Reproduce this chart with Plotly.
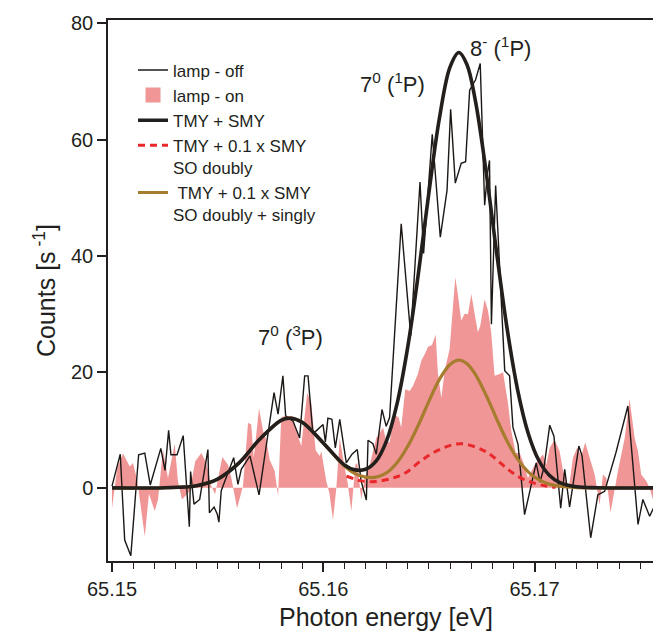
import plotly.graph_objects as go

# lamp - off (thin black line)
energy_off = [65.15000, 65.15039, 65.15060, 65.15089, 65.15126, 65.15155, 65.15181, 65.15231, 65.15251,
              65.15268, 65.15279, 65.15308, 65.15337, 65.15366, 65.15372, 65.15388, 65.15415, 65.15454,
              65.15461, 65.15483, 65.15498, 65.15506, 65.15517, 65.15576, 65.15596, 65.15612, 65.15653,
              65.15696, 65.15767, 65.15786, 65.15809, 65.15822, 65.15857, 65.15888, 65.15912, 65.15928,
              65.15951, 65.15983, 65.15999, 65.16010, 65.16022, 65.16041, 65.16057, 65.16078, 65.16109,
              65.16136, 65.16161, 65.16179, 65.16204, 65.16212, 65.16235, 65.16251, 65.16278, 65.16298,
              65.16314, 65.16369, 65.16414, 65.16458, 65.16475, 65.16516, 65.16554, 65.16586, 65.16603,
              65.16625, 65.16653, 65.16674, 65.16693, 65.16721, 65.16743, 65.16764, 65.16777, 65.16787,
              65.16796, 65.16816, 65.16859, 65.16882, 65.16898, 65.16922, 65.16953, 65.16974, 65.16989,
              65.17008, 65.17026, 65.17045, 65.17072, 65.17092, 65.17124, 65.17143, 65.17166, 65.17210,
              65.17225, 65.17266, 65.17300, 65.17332, 65.17385, 65.17442, 65.17490, 65.17513, 65.17545,
              65.17571, 65.17597]
counts_off = [0.3, 5.8, -9.0, -11.7, 5.7, 6.0, 0.5, 6.8, 3.0,
              9.9, 5.7, 5.7, 9.0, -6.7, 2.8, -2.8, -2.0, 6.6,
              -4.3, -3.3, -4.5, -5.9, -0.5, 5.2, 0.6, 3.2, 5.5,
              -1.2, 16.4, 12.7, 19.3, 12.4, 11.5, 8.6, 19.3, 19.3,
              9.3, 10.4, 10.9, 7.9, 12.0, 11.8, 6.9, 11.8, 4.3,
              5.8, 6.6, 1.2, -2.1, 8.2, 7.6, 5.8, 13.5, 10.6,
              12.1, 45.5, 26.2, 52.7, 40.4, 60.9, 43.2, 51.3, 65.2,
              52.5, 55.9, 56.2, 68.5, 70.3, 73.1, 48.7, 54.1, 56.4,
              28.2, 52.1, 20.2, 19.3, 10.4, 7.5, -4.6, -1.2, 1.2,
              4.3, 1.0, 3.5, 10.8, 8.9, -3.5, 3.2, -3.3, 7.2,
              5.5, -8.6, -1.2, -0.6, 6.0, 14.1, -6.3, -2.0, -4.9,
              -2.9, 3.2]

# lamp - on (pink filled area)
energy_on = [65.15000, 65.15025, 65.15052, 65.15084, 65.15099, 65.15120, 65.15155, 65.15175, 65.15202,
             65.15218, 65.15241, 65.15265, 65.15297, 65.15312, 65.15331, 65.15368, 65.15394, 65.15423,
             65.15446, 65.15470, 65.15488, 65.15522, 65.15549, 65.15565, 65.15592, 65.15620, 65.15644,
             65.15659, 65.15671, 65.15696, 65.15715, 65.15730, 65.15746, 65.15770, 65.15786, 65.15801,
             65.15817, 65.15853, 65.15872, 65.15896, 65.15924, 65.15943, 65.15964, 65.15983, 65.15991,
             65.16014, 65.16029, 65.16046, 65.16062, 65.16078, 65.16101, 65.16115, 65.16133, 65.16152,
             65.16161, 65.16180, 65.16196, 65.16220, 65.16251, 65.16283, 65.16298, 65.16314, 65.16335,
             65.16357, 65.16369, 65.16388, 65.16409, 65.16425, 65.16448, 65.16464, 65.16480, 65.16496,
             65.16515, 65.16532, 65.16543, 65.16559, 65.16575, 65.16598, 65.16625, 65.16638, 65.16653,
             65.16669, 65.16685, 65.16701, 65.16717, 65.16732, 65.16743, 65.16764, 65.16780, 65.16795,
             65.16811, 65.16835, 65.16851, 65.16874, 65.16890, 65.16911, 65.16930, 65.16945, 65.16969,
             65.17001, 65.17040, 65.17056, 65.17072, 65.17095, 65.17119, 65.17135, 65.17150, 65.17155,
             65.17166, 65.17182, 65.17202, 65.17221, 65.17240, 65.17261, 65.17285, 65.17308, 65.17324,
             65.17340, 65.17360, 65.17371, 65.17395, 65.17427, 65.17450, 65.17474, 65.17490, 65.17505,
             65.17529, 65.17545, 65.17565, 65.17576, 65.17588, 65.17592]
counts_on = [-3.5, 3.5, 5.9, 3.7, 4.3, 1.2, -8.4, -1.0, -4.0,
             -2.0, 6.6, 1.7, 7.6, 1.2, -2.0, -0.6, 4.6, 6.0,
             4.3, 0.3, -1.1, 5.3, 4.0, 1.7, -3.5, 0.3, 11.2,
             10.9, 5.2, 13.7, 9.8, 8.3, 4.9, 2.9, -1.4, 12.1,
             12.4, 12.4, 9.8, 7.2, 16.4, 14.7, 6.5, 5.5, 6.3,
             1.2, -0.9, -5.5, 0.0, 8.6, 3.5, 1.0, -4.0, 4.0,
             4.3, -2.0, 1.7, 4.0, 8.6, 10.4, 8.1, 7.8, 12.7,
             12.1, 10.4, 17.0, 16.7, 17.6, 19.6, 21.9, 23.0, 24.3,
             24.6, 26.4, 19.6, 15.5, 20.2, 23.9, 36.3, 33.1, 28.8,
             30.0, 29.9, 33.4, 29.9, 26.8, 27.9, 32.5, 30.5, 26.8,
             19.3, 19.6, 19.9, 14.7, 9.8, 6.0, 6.0, 4.6, 1.7,
             4.0, 5.8, 4.0, 6.9, 8.3, 6.3, 2.9, 1.2, -0.9,
             0.9, 5.2, 6.9, 5.5, 7.8, 5.2, 2.3, -2.9, 2.3,
             1.7, -4.3, -2.0, 2.9, 8.6, 15.3, 8.6, 6.3, 2.3,
             1.2, 0.0, -2.6, 3.5, 7.2, 0.0]

# model curves
energy_fit = [65.1500, 65.1525, 65.1540, 65.1550, 65.1560, 65.1570, 65.1580, 65.15842, 65.1590,
              65.1600, 65.1610, 65.1615, 65.1620, 65.1625, 65.1630, 65.1635, 65.1640, 65.1645,
              65.1650, 65.1655, 65.1660, 65.16642, 65.1668, 65.1672, 65.1677, 65.1682, 65.1687,
              65.1692, 65.1697, 65.1702, 65.1707, 65.1712, 65.1720, 65.1730, 65.1760]
tmy_smy = [0.0, 0.02, 0.38, 1.51, 4.25, 8.40, 11.63, 12.0, 11.31,
           7.74, 3.95, 3.10, 3.20, 4.60, 8.15, 14.60, 24.28, 36.83,
           50.84, 63.71, 72.49, 75.0, 72.94, 66.70, 54.68, 40.70, 27.52,
           16.89, 9.42, 4.76, 2.19, 0.91, 0.19, 0.02, 0.0]
tmy_singly = [0.0, 0.02, 0.38, 1.51, 4.25, 8.40, 11.63, 12.0, 11.31,
              7.72, 3.77, 2.45, 1.85, 1.85, 2.60, 4.37, 7.16, 10.80,
              14.91, 18.69, 21.26, 22.0, 21.40, 19.56, 16.04, 11.94, 8.07,
              4.95, 2.76, 1.40, 0.64, 0.27, 0.05, 0.0, 0.0]
energy_doubly = [65.1611, 65.1615, 65.1618, 65.1625, 65.1633, 65.1639, 65.1646, 65.1655, 65.1665,
                 65.1675, 65.1681, 65.1687, 65.1693, 65.1699, 65.1705, 65.1710]
tmy_doubly = [2.0, 1.5, 1.2, 1.1, 1.7, 2.6, 4.6, 6.6, 7.6,
              6.6, 5.2, 3.3, 1.8, 0.9, 0.35, 0.1]

labels = ["7<sup>0</sup> (<sup>3</sup>P)", "7<sup>0</sup> (<sup>1</sup>P)", "8<sup>-</sup> (<sup>1</sup>P)"]
label_x = [65.15847, 65.16330, 65.16841]
label_y = [26.2, 69.8, 76.0]

FONT = "Liberation Sans, Arial, Helvetica, sans-serif"
PINK = "#F09696"

fig = go.Figure()
fig.add_trace(go.Scatter(x=energy_on, y=counts_on, mode="none", fill="tozeroy",
                         fillcolor=PINK, name="lamp - on", showlegend=False))
fig.add_trace(go.Scatter(x=energy_off, y=counts_off, mode="lines",
                         line=dict(color="#1c1816", width=1.4), name="lamp - off", legendrank=1))
# legend swatch for the filled area (small square as in the reference)
fig.add_trace(go.Scatter(x=[None], y=[None], mode="markers",
                         marker=dict(symbol="square", size=15, color=PINK),
                         name="lamp - on", legendrank=2))
fig.add_trace(go.Scatter(x=energy_doubly, y=tmy_doubly, mode="lines",
                         line=dict(color="#E8282B", width=3, dash="7px,5px", shape="spline"),
                         name="TMY + 0.1 x SMY<br>SO doubly", legendrank=4))
fig.add_trace(go.Scatter(x=energy_fit, y=tmy_singly, mode="lines",
                         line=dict(color="#A67C2E", width=3.2, shape="spline"),
                         name=" TMY + 0.1 x SMY<br>SO doubly + singly", legendrank=5))
fig.add_trace(go.Scatter(x=energy_fit, y=tmy_smy, mode="lines",
                         line=dict(color="#231f1c", width=3.6, shape="spline"),
                         name="TMY + SMY", legendrank=3))

for t, x, y in zip(labels, label_x, label_y):
    fig.add_annotation(x=x, y=y, text=t, showarrow=False, font=dict(size=22, color="#231f20"))

fig.update_layout(
    width=661, height=634,
    margin=dict(l=100, r=5, t=12, b=81),
    paper_bgcolor="white", plot_bgcolor="white",
    font=dict(family=FONT, color="#231f20", size=20),
    showlegend=True,
    legend=dict(x=0.045, y=0.94, xanchor="left", yanchor="top", bgcolor="rgba(0,0,0,0)",
                font=dict(size=17), valign="top", traceorder="normal"),
)
fig.update_xaxes(range=[65.14981, 65.17613], showgrid=False, zeroline=False, automargin=False,
                 showline=True, mirror=True, linecolor="#231f20", linewidth=1.5,
                 ticks="outside", ticklen=9, tickwidth=1.5, tickcolor="#231f20",
                 tickvals=[65.15, 65.16, 65.17], ticktext=["65.15", "65.16", "65.17"],
                 tickfont=dict(size=20),
                 minor=dict(dtick=0.001, tick0=65.15, ticks="outside", ticklen=6, tickwidth=1.2,
                            tickcolor="#231f20"),
                 title=dict(text="Photon energy [eV]", font=dict(size=25), standoff=10))
fig.update_yaxes(range=[-12.6, 80.6], showgrid=False, zeroline=False, automargin=False,
                 showline=True, mirror=True, linecolor="#231f20", linewidth=1.5,
                 ticks="outside", ticklen=9, tickwidth=1.5, tickcolor="#231f20",
                 tickvals=[0, 20, 40, 60, 80], tickfont=dict(size=20),
                 title=dict(text="Counts [s<sup> -1</sup>]", font=dict(size=25), standoff=8))

fig.write_html("out.html")
